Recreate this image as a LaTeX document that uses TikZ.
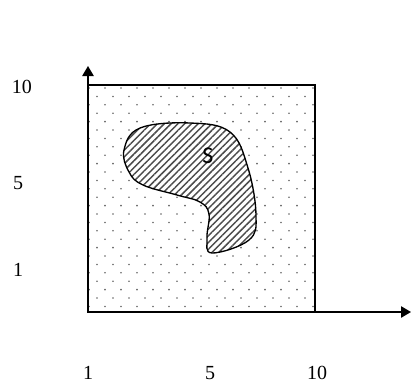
\documentclass[tikz,border=0pt]{standalone}
\usepackage{fontspec}
\setmainfont{Liberation Serif}
\newfontfamily\regionfont{Carlito}
\usetikzlibrary{arrows.meta,patterns.meta}

\tikzset{
  axis/.style={line width=1.2pt, -{Triangle[length=7.5pt, width=8.5pt]}},
  ticklab/.style={font=\fontsize{15}{17}\selectfont},
  dotfill/.style={black!60},
}

\begin{document}
\begin{tikzpicture}[x=0.75pt,y=-0.75pt]
  \useasboundingbox (0,0) rectangle (411,383);
  \coordinate (O) at (88,312);
  \coordinate (xtip) at (411,312);
  \coordinate (ytip) at (88,66);
  % dotted square
  \begin{scope}
    \clip (88,85) rectangle (315,312);
    \foreach \r in {0,...,27}
      \foreach \c in {0,...,14}
        {\fill[dotfill] ({89+16*\c+8*mod(\r,2)},{88+8.4*\r}) circle (0.9);}
  \end{scope}
  \draw[line width=1.2pt] (88,85) rectangle (315,312);
  % region S
  \fill[white] plot[smooth cycle, tension=0.65] coordinates
    {(124,150) (140,128) (190,123) (230,132) (248,168) (256,215) (249,240)
     (212,253) (207,238) (209,214) (200,202) (177,195) (143,185) (129,172)};
  \draw[line width=1pt,
        pattern={Lines[distance=3.6pt, angle=45, line width=1.1pt]},
        pattern color=black!70]
    plot[smooth cycle, tension=0.65] coordinates
    {(124,150) (140,128) (190,123) (230,132) (248,168) (256,215) (249,240)
     (212,253) (207,238) (209,214) (200,202) (177,195) (143,185) (129,172)};
  \node[font=\regionfont\fontsize{18}{20}\selectfont] (slab) at (208,156) {S};
  % axes
  \draw[axis] (O) -- (xtip);
  \draw[axis] (O) -- (ytip);
  % tick labels
  \node[ticklab] (y10) at (22,87) {10};
  \node[ticklab] (y5) at (18,183) {5};
  \node[ticklab] (y1) at (18,270) {1};
  \node[ticklab] (x1) at (88,373) {1};
  \node[ticklab] (x5) at (210,373) {5};
  \node[ticklab] (x10) at (317,373) {10};
\end{tikzpicture}
\end{document}
